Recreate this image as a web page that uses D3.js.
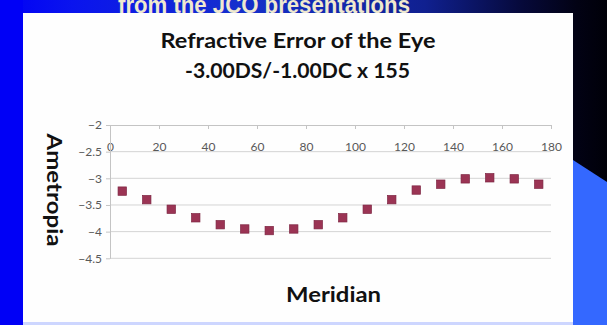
<!DOCTYPE html>
<html>
<head>
<meta charset="utf-8">
<script src="https://cdn.jsdelivr.net/npm/d3@7"></script>
<style>
  html, body { margin: 0; padding: 0; background: #000010; }
  svg { display: block; }
</style>
</head>
<body>
<script>
// ---- data ----
const meridians = [5, 15, 25, 35, 45, 55, 65, 75, 85, 95, 105, 115, 125, 135, 145, 155, 165, 175];
const ametropia = [-3.24, -3.40, -3.58, -3.74, -3.87, -3.95, -3.98, -3.95, -3.87, -3.74, -3.58, -3.40, -3.22, -3.11, -3.01, -2.99, -3.01, -3.11];
const xTicks = [0, 20, 40, 60, 80, 100, 120, 140, 160, 180];
const yTicks = [-2, -2.5, -3, -3.5, -4, -4.5];
const titleLines = ["Refractive Error of the Eye", "-3.00DS/-1.00DC x 155"];
const xTitle = "Meridian";
const yTitle = "Ametropia";
const slideHeader = "from the JCO presentations";

const W = 607, H = 325;
const svg = d3.select("body").append("svg").attr("width", W).attr("height", H);

// ---- slide background ----
const defs = svg.append("defs");
const g1 = defs.append("linearGradient").attr("id", "bg").attr("x1", "0").attr("x2", "1").attr("y1", "0").attr("y2", "0");
[["0%", "#0000f6"], ["12%", "#0a14ee"], ["40%", "#1530cc"], ["70%", "#102090"], ["86%", "#06093a"], ["95%", "#020214"], ["100%", "#000008"]]
  .forEach(([o, c]) => g1.append("stop").attr("offset", o).attr("stop-color", c));
svg.append("rect").attr("width", W).attr("height", H).attr("fill", "url(#bg)");
svg.append("rect").attr("x", 0).attr("y", 0).attr("width", 23).attr("height", H).attr("fill", "#0000f6");
svg.append("polygon").attr("points", "573,160 607,182 607,325 573,325").attr("fill", "#3468ff");

svg.append("text").attr("x", 264).attr("y", 12.6).attr("text-anchor", "middle")
  .attr("font-family", "Liberation Sans, Arial, sans-serif").attr("font-weight", 700).attr("font-size", 23)
  .attr("fill", "#efe9cf").attr("textLength", 292).attr("lengthAdjust", "spacingAndGlyphs")
  .text(slideHeader);

// ---- white panel ----
svg.append("rect").attr("x", 23).attr("y", 322).attr("width", 550).attr("height", 3).attr("fill", "#cdd6ff");
svg.append("rect").attr("x", 23).attr("y", 13).attr("width", 550).attr("height", 309).attr("fill", "#fefefe");

// ---- scales ----
const x = d3.scaleLinear().domain([0, 180]).range([110, 551]);
const y = d3.scaleLinear().domain([-4.5, -2]).range([258.3, 125]);

// gridlines
svg.append("g").selectAll("line").data(yTicks.filter(d => d !== -2)).join("line")
  .attr("x1", x(0)).attr("x2", x(180)).attr("y1", d => y(d)).attr("y2", d => y(d))
  .attr("stroke", "#d4d4d4").attr("stroke-width", 1);

const font = "Lato, 'Open Sans', sans-serif";

// x axis (crosses at top of the value range)
const xAxis = svg.append("g").attr("transform", `translate(0,${y(-2)})`)
  .call(d3.axisBottom(x).tickValues(xTicks).tickSize(4).tickPadding(13).tickSizeOuter(0));
xAxis.select(".domain").attr("stroke", "#c4c4c4");
xAxis.selectAll(".tick line").attr("stroke", "#c4c4c4");
xAxis.selectAll("text").attr("fill", "#595959").attr("font-family", font).attr("font-size", 12);

// y axis
const yAxis = svg.append("g").attr("transform", `translate(${x(0)},0)`)
  .call(d3.axisLeft(y).tickValues(yTicks).tickSize(4).tickPadding(4).tickSizeOuter(0).tickFormat(d3.format("")));
yAxis.select(".domain").attr("stroke", "#c4c4c4");
yAxis.selectAll(".tick line").attr("stroke", "#c4c4c4");
yAxis.selectAll("text").attr("fill", "#595959").attr("font-family", font).attr("font-size", 12);

// markers
const s = 8.4;
svg.append("g").selectAll("rect").data(meridians.map((m, i) => [m, ametropia[i]])).join("rect")
  .attr("x", d => x(d[0]) - s / 2).attr("y", d => y(d[1]) - s / 2)
  .attr("width", s).attr("height", s)
  .attr("fill", "#9b3454").attr("stroke", "#7e2542").attr("stroke-width", 0.7);

// titles
const tfont = "Lato, 'Open Sans', sans-serif";
svg.append("text").attr("x", 298).attr("y", 47.7).attr("text-anchor", "middle")
  .attr("font-family", tfont).attr("font-weight", 700).attr("font-size", 20.5).attr("fill", "#111")
  .attr("textLength", 275).attr("lengthAdjust", "spacingAndGlyphs").text(titleLines[0]);
svg.append("text").attr("x", 297.5).attr("y", 78.3).attr("text-anchor", "middle")
  .attr("font-family", tfont).attr("font-weight", 700).attr("font-size", 20.5).attr("fill", "#111")
  .attr("textLength", 225).attr("lengthAdjust", "spacingAndGlyphs").text(titleLines[1]);

svg.append("text").attr("x", 333.5).attr("y", 301.7).attr("text-anchor", "middle")
  .attr("font-family", tfont).attr("font-weight", 700).attr("font-size", 20.5).attr("fill", "#111")
  .attr("textLength", 95).attr("lengthAdjust", "spacingAndGlyphs").text(xTitle);

svg.append("text").attr("transform", "translate(46.7,190) rotate(90)").attr("text-anchor", "middle")
  .attr("font-family", tfont).attr("font-weight", 700).attr("font-size", 20.5).attr("fill", "#111")
  .attr("textLength", 113).attr("lengthAdjust", "spacingAndGlyphs").text(yTitle);
</script>
</body>
</html>
